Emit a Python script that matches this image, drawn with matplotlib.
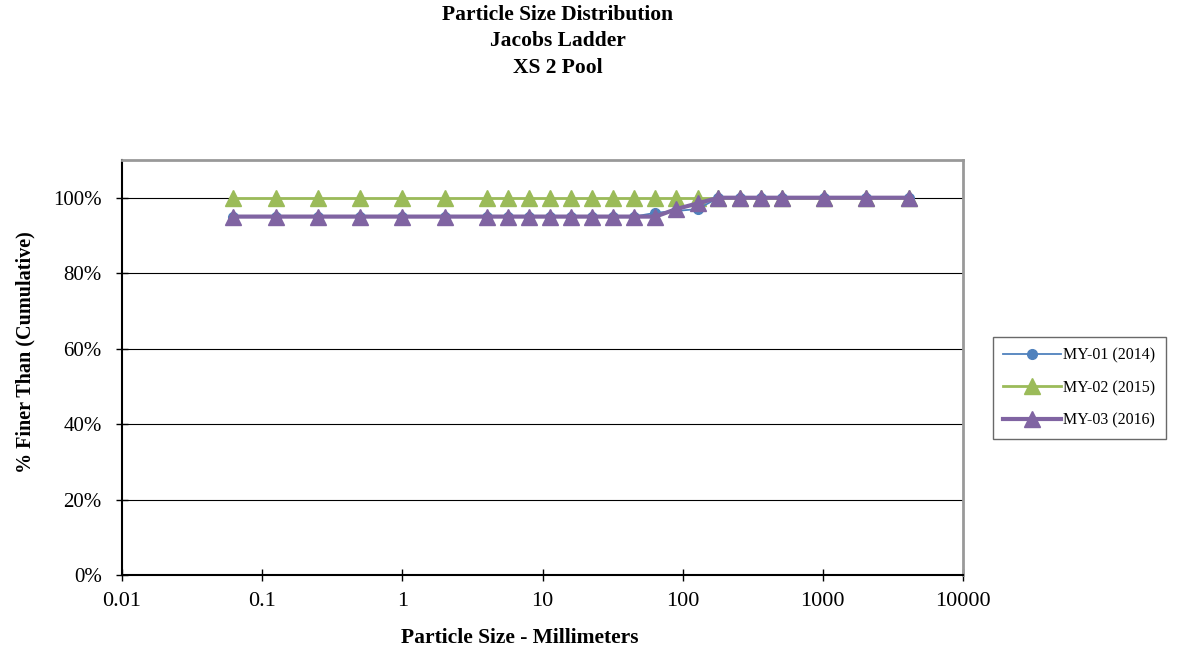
import matplotlib
matplotlib.use("Agg")
import matplotlib.pyplot as plt
from matplotlib.ticker import FuncFormatter, FixedLocator, NullLocator

plt.rcParams["font.family"] = ["Liberation Serif", "DejaVu Serif"]

sizes_mm = [0.062, 0.125, 0.25, 0.5, 1, 2, 4, 5.7, 8, 11.3, 16, 22.6, 32, 45,
            64, 90, 128, 180, 256, 362, 512, 1024, 2048, 4096]
my01 = [95, 95, 95, 95, 95, 95, 95, 95, 95, 95, 95, 95, 95, 95,
        96, 96.5, 97, 100, 100, 100, 100, 100, 100, 100]
my02 = [100] * len(sizes_mm)
my03 = [95, 95, 95, 95, 95, 95, 95, 95, 95, 95, 95, 95, 95, 95,
        95, 97, 98.5, 100, 100, 100, 100, 100, 100, 100]
series_names = ["MY-01 (2014)", "MY-02 (2015)", "MY-03 (2016)"]
x_ticks = [0.01, 0.1, 1, 10, 100, 1000, 10000]
y_ticks = [0, 20, 40, 60, 80, 100]
title_lines = ["Particle Size Distribution", "Jacobs Ladder", "XS 2 Pool"]

W, H = 1182, 654
fig = plt.figure(figsize=(W / 100, H / 100), dpi=100)
ax = fig.add_axes([122 / W, 1 - 575 / H, (963 - 122) / W, (575 - 160) / H])

ax.plot(sizes_mm, my01, color="#4F81BD", lw=1.3, marker="o", ms=7,
        label=series_names[0], zorder=3)
ax.plot(sizes_mm, my02, color="#9BBB59", lw=2, marker="^", ms=11,
        label=series_names[1], zorder=2)
ax.plot(sizes_mm, my03, color="#8064A2", lw=3, marker="^", ms=11,
        label=series_names[2], zorder=4)

ax.set_xscale("log")
ax.set_xlim(0.01, 10000)
ax.set_ylim(0, 110)
ax.xaxis.set_major_locator(FixedLocator(x_ticks))
ax.xaxis.set_minor_locator(NullLocator())
ax.xaxis.set_major_formatter(FuncFormatter(lambda v, p: f"{v:g}"))
ax.set_yticks(y_ticks)
ax.yaxis.set_major_formatter(FuncFormatter(lambda v, p: f"{v:.0f}%"))
ax.tick_params(axis="both", direction="inout", length=9, width=1, color="black")
ax.tick_params(axis="x", labelsize=16, pad=8)
ax.tick_params(axis="y", labelsize=15, pad=10)

for y in y_ticks[1:]:
    ax.axhline(y, color="black", lw=0.8, zorder=1)

ax.spines["left"].set_color("black")
ax.spines["bottom"].set_color("black")
ax.spines["left"].set_linewidth(1.5)
ax.spines["bottom"].set_linewidth(1.5)
ax.spines["top"].set_color("#999999")
ax.spines["right"].set_color("#999999")
ax.spines["top"].set_linewidth(2)
ax.spines["right"].set_linewidth(2)

# titles and axis labels placed in figure pixels
fig.text(520 / W, 1 - 638 / H, "Particle Size - Millimeters", ha="center",
         va="center", fontsize=15.5, fontweight="bold")
fig.text(25 / W, 1 - 352 / H, "% Finer Than (Cumulative)", ha="center",
         va="center", rotation=90, fontsize=14.5, fontweight="bold")
for i, line in enumerate(title_lines):
    fig.text(558 / W, 1 - (15 + 26.5 * i) / H, line, ha="center", va="center",
             fontsize=15.5, fontweight="bold")

leg = fig.legend(loc="center left", bbox_to_anchor=(993 / W, 1 - 388 / H),
                 fontsize=11.5, frameon=True, fancybox=False, handlelength=3.6,
                 labelspacing=1.05, borderpad=0.65, handletextpad=0.15,
                 borderaxespad=0)
leg.get_frame().set_edgecolor("#444444")
leg.get_frame().set_linewidth(1)

fig.savefig("out.png", dpi=100)
